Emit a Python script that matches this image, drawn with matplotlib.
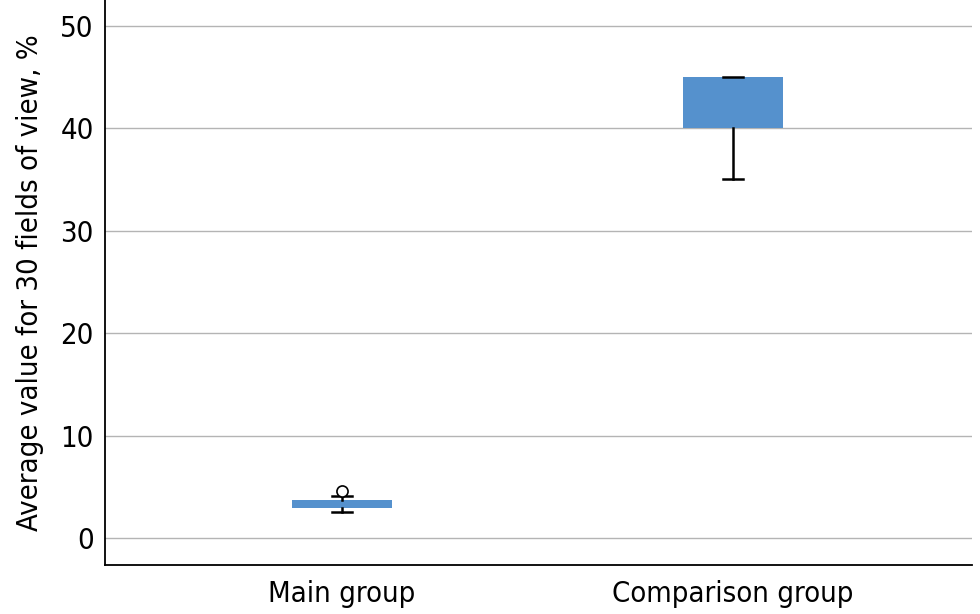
import matplotlib
matplotlib.use("Agg")
import matplotlib.pyplot as plt

# values
groups = ["Main group", "Comparison group"]
q1 = [2.9, 40.0]
q3 = [3.7, 45.0]
medians = [3.3, 45.0]
whisker_low = [2.6, 35.0]
whisker_high = [4.1, 45.0]
outliers = [[4.6], []]
y_ticks = [0, 10, 20, 30, 40, 50]

BOX_COLOR = "#5591cd"

plt.rcParams["font.family"] = ["DejaVu Sans"]
plt.rcParams["font.stretch"] = "condensed"

stats = []
for i, g in enumerate(groups):
    stats.append({
        "label": g,
        "q1": q1[i],
        "q3": q3[i],
        "med": medians[i],
        "whislo": whisker_low[i],
        "whishi": whisker_high[i],
        "fliers": outliers[i],
    })

fig = plt.figure(figsize=(9.8, 6.14), dpi=100)
ax = fig.add_axes([0.107, 0.08, 0.885, 0.92])

ax.bxp(
    stats,
    positions=[1, 2],
    widths=0.256,
    patch_artist=True,
    boxprops=dict(facecolor=BOX_COLOR, edgecolor=BOX_COLOR, linewidth=0),
    medianprops=dict(color=BOX_COLOR, linewidth=0),
    whiskerprops=dict(color="black", linewidth=1.8),
    capprops=dict(color="black", linewidth=1.8),
    capwidths=0.05,
    flierprops=dict(marker="o", markerfacecolor="white", markeredgecolor="black",
                    markersize=8, markeredgewidth=1.2),
    zorder=3,
)

ax.set_xlim(0.394, 2.611)
ax.set_ylim(-2.6, 52.5)
ax.set_yticks(y_ticks)
ax.yaxis.grid(True, color="#b4b4b4", linewidth=1.0)
ax.set_axisbelow(True)
ax.tick_params(axis="both", length=0, labelsize=21)
ax.tick_params(axis="y", pad=8)
ax.tick_params(axis="x", pad=11)
ax.set_ylabel("Average value for 30 fields of view, %", fontsize=21, labelpad=12)

for side in ("top", "right"):
    ax.spines[side].set_visible(False)
for side in ("left", "bottom"):
    ax.spines[side].set_color("black")
    ax.spines[side].set_linewidth(1.3)

fig.savefig("out.png", dpi=100)
